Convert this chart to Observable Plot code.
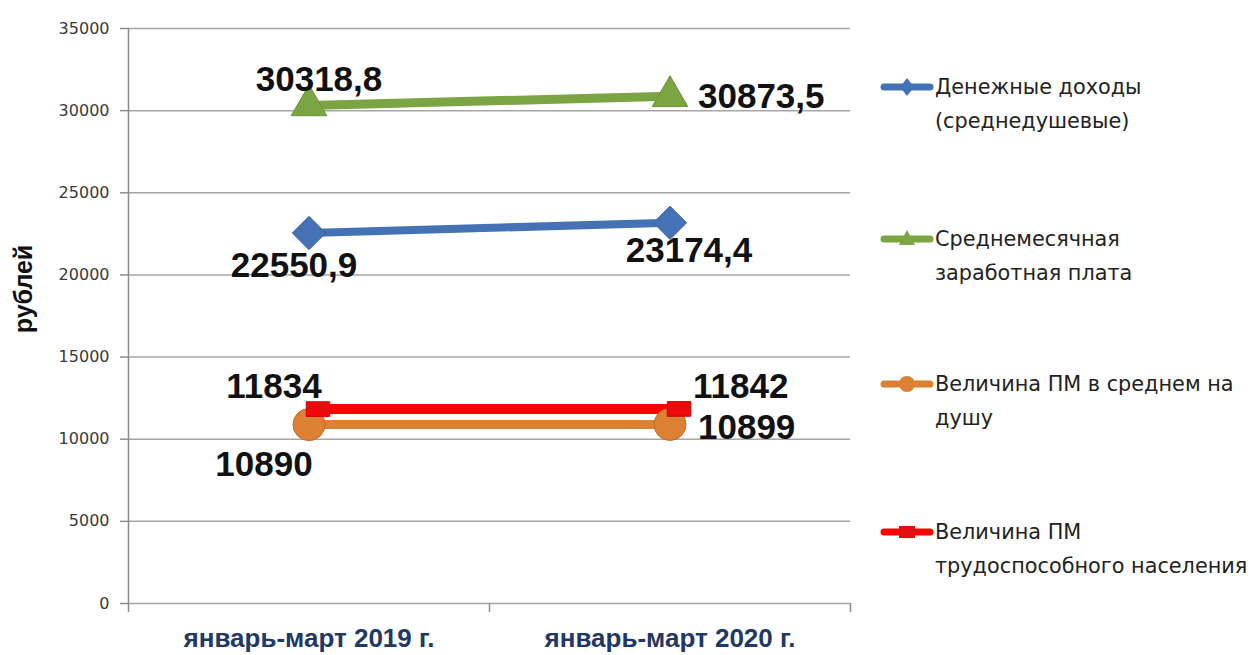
<!DOCTYPE html>
<html>
<head>
<meta charset="utf-8">
<script src="https://cdn.jsdelivr.net/npm/d3@7"></script>
<script src="https://cdn.jsdelivr.net/npm/@observablehq/plot@0.6"></script>
<style>
  body { margin: 0; background: #fff; }
  #wrap { position: relative; width: 1252px; height: 655px; overflow: hidden; }
  .leg { position: absolute; left: 880px; font-family: "DejaVu Sans", sans-serif; font-size: 20.8px; color: #222; line-height: 34px; white-space: nowrap; }
  .leg svg { position: absolute; left: 0; top: 6px; }
  .leg .t { margin-left: 55px; }
</style>
</head>
<body>
<div id="wrap"></div>
<script>
// ---- data ----
const categories = ["январь-март 2019 г.", "январь-март 2020 г."];
const seriesNames = [
  "Денежные доходы (среднедушевые)",
  "Среднемесячная заработная плата",
  "Величина ПМ в среднем на душу",
  "Величина ПМ трудоспособного населения"
];
const legendLines = [
  ["Денежные доходы", "(среднедушевые)"],
  ["Среднемесячная", "заработная плата"],
  ["Величина ПМ в среднем на", "душу"],
  ["Величина ПМ", "трудоспособного населения"]
];
const income = [22550.9, 23174.4];
const salary = [30318.8, 30873.5];
const pmPerCapita = [10890, 10899];
const pmWorking = [11834, 11842];
const yTicks = [0, 5000, 10000, 15000, 20000, 25000, 30000, 35000];
const yLabel = "рублей";

const colors = ["#4472b4", "#7ba442", "#dc8034", "#ff0000"];

// wide rectangle symbol for the red series
const rectSymbol = {
  draw(context, size) {
    const h = Math.sqrt(size) * 0.75, w = h * 1.6;
    context.rect(-w / 2, -h / 2, w, h);
  }
};

function rows(values) {
  return categories.map((c, i) => ({ cat: c, i, value: values[i], label: String(values[i]).replace(".", ",") }));
}
const incomeRows = rows(income), salaryRows = rows(salary), perCapRows = rows(pmPerCapita), workRows = rows(pmWorking);
const X = d => d.i + 0.5;

const labelFont = { fontSize: 35, fontWeight: "bold", fontFamily: "Liberation Sans, Arial, sans-serif", fill: "#111" };
function lab(data, idx, opts) {
  return Plot.text(data, { filter: d => d.i === idx, x: X, y: "value", text: "label", ...labelFont, ...opts });
}

const plot = Plot.plot({
  width: 1252,
  height: 655,
  marginLeft: 128,
  marginRight: 402,
  marginTop: 28,
  marginBottom: 52,
  style: { fontFamily: "DejaVu Sans, sans-serif", background: "#fff" },
  x: { type: "linear", domain: [0, categories.length], axis: null },
  y: { domain: [0, 35000], axis: null },
  marks: [
    Plot.ruleY(yTicks, { stroke: "#a6a6a6", strokeWidth: 1.5 }),
    Plot.ruleX([0], { stroke: "#8c8c8c", strokeWidth: 1.5 }),
    Plot.axisY({ ticks: yTicks, label: null, tickFormat: d => String(d), tickSize: 8, tickPadding: 11, fontSize: 16, fill: "#3a3a3a", stroke: "#8c8c8c", strokeWidth: 1.5, fontFamily: "DejaVu Sans, sans-serif" }),
    Plot.axisX({ ticks: d3.range(categories.length + 1), label: null, tickSize: 9, tickFormat: () => "", stroke: "#8c8c8c", strokeWidth: 1.5 }),
    Plot.axisX({ ticks: categories.map((c, i) => i + 0.5), label: null, tickSize: 0, tickPadding: 25, tickFormat: v => categories[Math.floor(v)],
      fontSize: 26, fontWeight: "bold", fill: "#1f3864", fontFamily: "Liberation Sans Narrow, Arial Narrow, sans-serif" }),
    Plot.text([yLabel], { frameAnchor: "left", textAnchor: "middle", rotate: -90, dx: -105, dy: -27, fontSize: 25, fontWeight: "bold", fill: "#111", fontFamily: "Liberation Sans, Arial, sans-serif" }),

    Plot.line(salaryRows, { x: X, y: "value", stroke: colors[1], strokeWidth: 9 }),
    Plot.line(incomeRows, { x: X, y: "value", stroke: colors[0], strokeWidth: 8 }),
    Plot.line(perCapRows, { x: X, y: "value", stroke: colors[2], strokeWidth: 9 }),
    Plot.line(workRows, { x: X, y: "value", stroke: colors[3], strokeWidth: 10, dx: 9 }),

    Plot.dot(salaryRows, { x: X, y: "value", symbol: "triangle2", r: 17, fill: colors[1], stroke: "#6d9238", strokeWidth: 1 }),
    Plot.dot(incomeRows, { x: X, y: "value", symbol: "diamond2", r: 15, fill: colors[0], stroke: "#3a64a0", strokeWidth: 1 }),
    Plot.dot(perCapRows, { x: X, y: "value", symbol: "circle", r: 16, fill: colors[2], stroke: "#c06e28", strokeWidth: 1 }),
    Plot.dot(workRows, { x: X, y: "value", symbol: rectSymbol, r: 11, fill: "#ee0a0a", stroke: "#c80000", strokeWidth: 1, dx: 9 }),

    lab(salaryRows, 0, { dx: 10, dy: -26 }),
    lab(salaryRows, 1, { dx: 28, dy: 1, textAnchor: "start" }),
    lab(incomeRows, 0, { dx: -15, dy: 33 }),
    lab(incomeRows, 1, { dx: 19, dy: 28 }),
    lab(workRows, 0, { dx: -35, dy: -22 }),
    lab(workRows, 1, { dx: 23, dy: -22, textAnchor: "start" }),
    lab(perCapRows, 0, { dx: -45, dy: 40 }),
    lab(perCapRows, 1, { dx: 28, dy: 3, textAnchor: "start" })
  ]
});

const wrap = document.getElementById("wrap");
wrap.appendChild(plot);

// legend (HTML, placed over the right margin)
const legendTops = [70, 222, 367, 515];
function symbolSvg(k) {
  const c = colors[k];
  let m = "";
  if (k === 0) m = `<path d="M27,-9 L34,0 L27,9 L20,0 Z" fill="${c}"/>`;
  if (k === 1) m = `<path d="M27,-9 L35,6 L19,6 Z" fill="${c}"/>`;
  if (k === 2) m = `<circle cx="27" cy="0" r="8" fill="${c}"/>`;
  if (k === 3) m = `<rect x="19" y="-6" width="16" height="12" fill="#e01010"/>`;
  return `<svg width="56" height="22" viewBox="0 -11 56 22"><line x1="4" x2="50" y1="0" y2="0" stroke="${c}" stroke-width="7" stroke-linecap="round"/>${m}</svg>`;
}
seriesNames.forEach((name, k) => {
  const div = document.createElement("div");
  div.className = "leg";
  div.style.top = legendTops[k] + "px";
  div.title = name;
  div.innerHTML = symbolSvg(k) + legendLines[k].map(s => `<div class="t">${s}</div>`).join("");
  wrap.appendChild(div);
});
</script>
</body>
</html>
